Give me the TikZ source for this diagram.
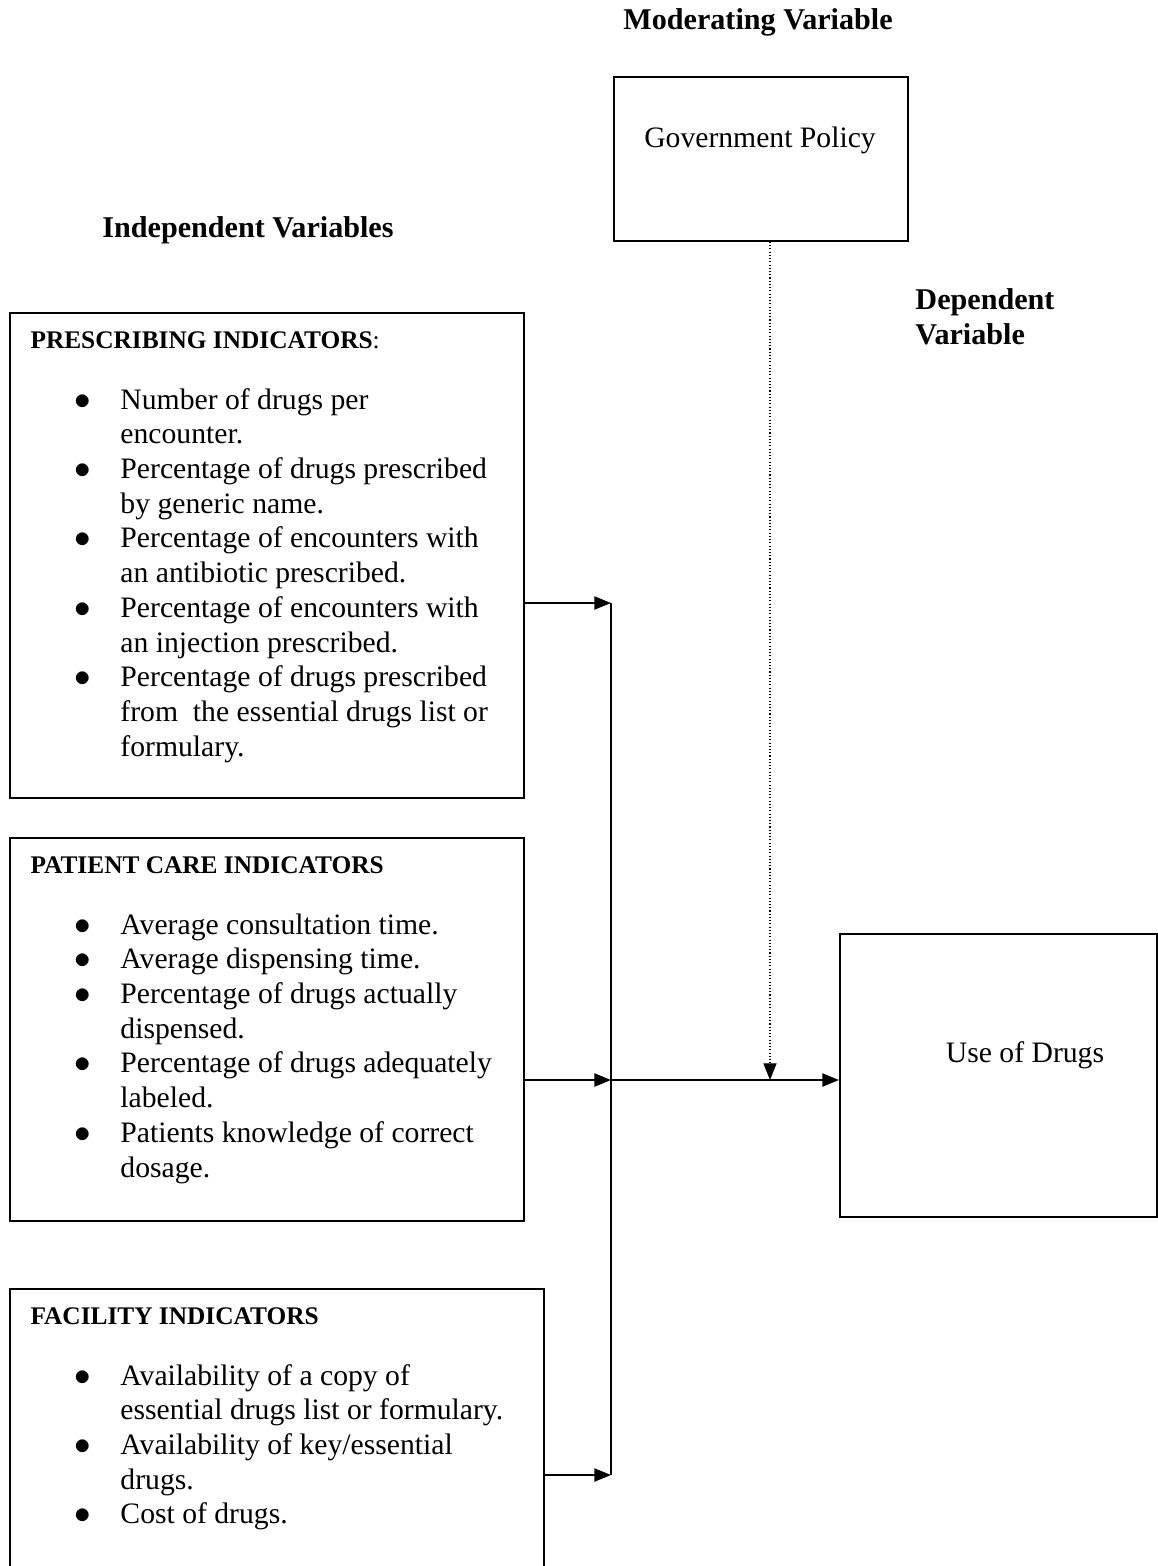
\documentclass[tikz,border=0pt]{standalone}
\usepackage{fontspec}
\setmainfont{Liberation Serif}
\usetikzlibrary{positioning}
\usetikzlibrary{arrows.meta}
\def\pxu{0.418pt}

% one bullet line, hanging under its text
\newcommand{\bitem}[1]{\par\hangindent=37.6pt\hangafter=0\noindent\llap{\scalebox{1.15}{$\bullet$}\hspace{12.3pt}}#1}
\newcommand{\indhead}[1]{{\fontsize{10.6}{14.5}\selectfont #1}\par\vspace{11pt}}

\tikzset{
  boxframe/.style={draw, line width=0.8pt, inner sep=0pt, anchor=north west},
  indtext/.style={inner sep=0pt, anchor=north west},
  headline/.style={font=\fontsize{12.6}{14.5}\selectfont\bfseries},
  plain/.style={font=\fontsize{12.4}{14.5}\selectfont},
  link/.style={line width=0.8pt, -{Triangle[length=7pt,width=5.5pt]}},
  modlink/.style={line width=0.45pt, dash pattern=on 0.45pt off 0.9pt, -{Triangle[length=7pt,width=5.5pt]}},
}

\begin{document}
\begin{tikzpicture}[x=0.418pt, y=-0.418pt]

\useasboundingbox (0,0) rectangle (1158,1566);

% titles
\node[headline] (modtitle) at (758,22) {Moderating Variable};
\node[headline] (indtitle) at (248,230) {Independent Variables};
\node[headline, align=left, anchor=west, inner sep=0pt] (deptitle) at (915,317) {Dependent\\Variable};

% moderating and dependent boxes
\node[boxframe, minimum width=294*\pxu, minimum height=164*\pxu] (gov) at (613,76) {};
\node[plain] (govtext) at (760,140) {Government Policy};

\node[boxframe, minimum width=317*\pxu, minimum height=283*\pxu] (use) at (839,933) {};
\node[plain] (usetext) at (1025,1055) {Use of Drugs};

% independent boxes
\node[boxframe, minimum width=514*\pxu, minimum height=485*\pxu] (presc) at (9,312) {};
\node[indtext, below right=7.9pt and 8.8pt of presc.north west] (presctext) {%
\begin{minipage}[t]{230pt}\raggedright\fontsize{12.4}{14.5}\selectfont
\indhead{\textbf{PRESCRIBING INDICATORS}:}
\bitem{Number of drugs per\newline encounter.}
\bitem{Percentage of drugs prescribed\newline by generic name.}
\bitem{Percentage of encounters with\newline an antibiotic prescribed.}
\bitem{Percentage of encounters with\newline an injection prescribed.}
\bitem{Percentage of drugs prescribed\newline from\ \ the essential drugs list or\newline formulary.}
\end{minipage}};

\node[boxframe, minimum width=514*\pxu, minimum height=383*\pxu] (patient) at (9,837) {};
\node[indtext, below right=7.9pt and 8.8pt of patient.north west] (patienttext) {%
\begin{minipage}[t]{230pt}\raggedright\fontsize{12.4}{14.5}\selectfont
\indhead{\textbf{PATIENT CARE INDICATORS}}
\bitem{Average consultation time.}
\bitem{Average dispensing time.}
\bitem{Percentage of drugs actually\newline dispensed.}
\bitem{Percentage of drugs adequately\newline labeled.}
\bitem{Patients knowledge of correct\newline dosage.}
\end{minipage}};

\node[boxframe, minimum width=534*\pxu, minimum height=284*\pxu] (facil) at (9,1288) {};
\node[indtext, below right=7.9pt and 8.8pt of facil.north west] (faciltext) {%
\begin{minipage}[t]{230pt}\raggedright\fontsize{12.4}{14.5}\selectfont
\indhead{\textbf{FACILITY INDICATORS}}
\bitem{Availability of a copy of\newline essential drugs list or formulary.}
\bitem{Availability of key/essential\newline drugs.}
\bitem{Cost of drugs.}
\end{minipage}};

% connectors
\coordinate (jtop) at (611,603);
\coordinate (jmid) at (611,1080);
\coordinate (jbot) at (611,1475);
\coordinate (modend) at (770,1080);

\draw[link] (presc.east |- jtop) -- (jtop);
\draw[link] (patient.east |- jmid) -- (jmid);
\draw[link] (facil.east |- jbot) -- (jbot);
\draw[line width=0.8pt] (jtop) -- (jbot);
\draw[link] (jmid) -- (use.west |- jmid);
\draw[modlink] (gov.south -| modend) -- (modend);

\end{tikzpicture}
\end{document}
